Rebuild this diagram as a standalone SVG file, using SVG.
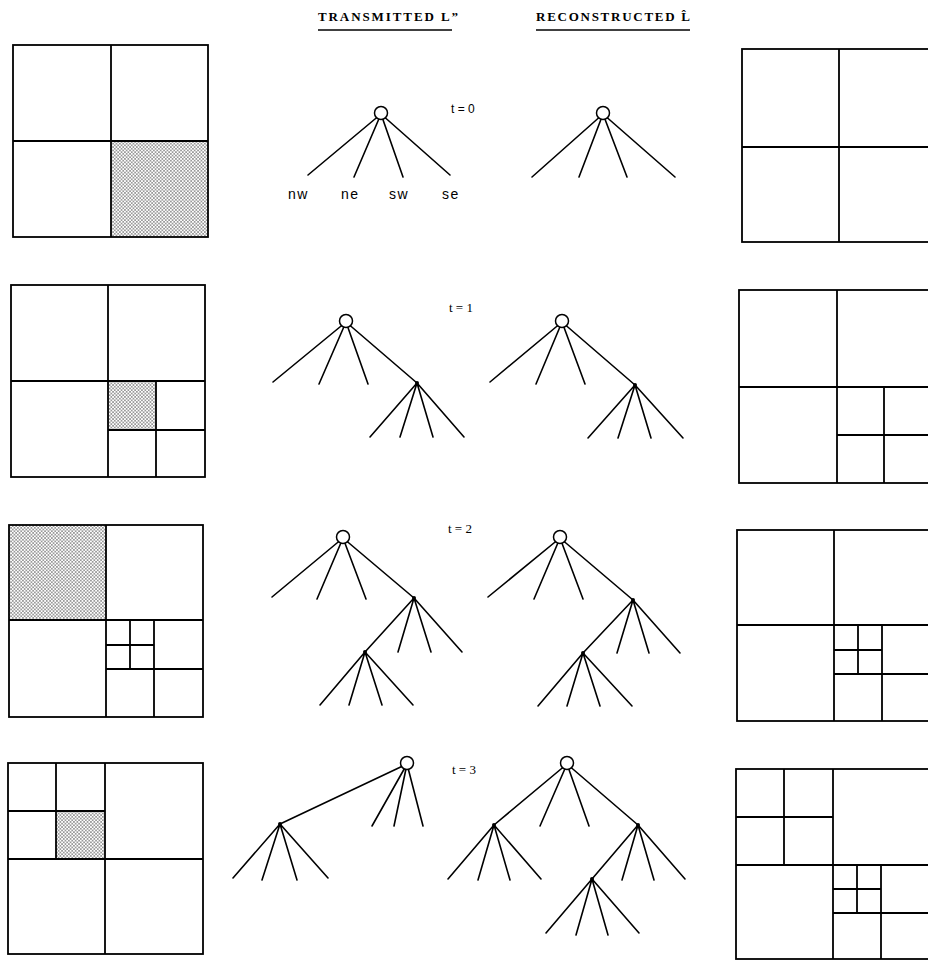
<svg xmlns="http://www.w3.org/2000/svg" width="928" height="960" viewBox="0 0 928 960">
<style>
.bx{fill:none;stroke:#000;stroke-width:1.8}
.dv{stroke:#000;stroke-width:1.8;fill:none}
.e{stroke:#000;stroke-width:1.6;fill:none;stroke-linecap:round}
.rt{fill:#fff;stroke:#000;stroke-width:1.5}
.nd{fill:#000}
.hd{font-family:"Liberation Serif","Times New Roman",serif;font-size:13px;font-weight:bold;fill:#000}
.ts{font-family:"Liberation Serif","Times New Roman",serif;font-size:13px;fill:#000}
.tsans{font-family:"Liberation Sans",Arial,sans-serif;font-size:12px;fill:#000}
.lb{font-family:"Liberation Sans",Arial,sans-serif;font-size:14px;fill:#000;letter-spacing:1.5px}
.ul{stroke:#000;stroke-width:1.5}
.sh{fill:url(#stip)}
</style>
<defs>
<pattern id="stip" width="3.4" height="3.4" patternUnits="userSpaceOnUse">
<rect width="3.4" height="3.4" fill="#fff"/>
<circle cx="0.85" cy="0.85" r="0.65" fill="#000"/>
<circle cx="2.55" cy="2.55" r="0.65" fill="#000"/>
</pattern>
</defs>
<rect width="928" height="960" fill="#fff"/>

<g id="headers">
<text class="hd" x="318" y="21" textLength="140" lengthAdjust="spacing">TRANSMITTED  L”</text>
<line class="ul" x1="318" y1="30" x2="452" y2="30"/>
<text class="hd" x="536" y="21" textLength="154" lengthAdjust="spacing">RECONSTRUCTED L̂</text>
<line class="ul" x1="536" y1="30" x2="690" y2="30"/>
</g>

<!-- Row t=0 -->
<g id="qt-L-t0">
<rect class="sh" x="111" y="141" width="97" height="96"/>
<rect class="bx" x="13" y="45" width="195" height="192"/>
<path class="dv" d="M111 45V237M13 141H208"/>
</g>
<g id="qt-R-t0">
<rect class="bx" x="742" y="49" width="194" height="193"/>
<path class="dv" d="M839 49V242M742 147H936"/>
</g>
<text class="tsans" x="451" y="113">t = 0</text>
<g id="tree-T-t0">
<g class="connectors">
<path class="e" d="M381 114L308 175M381 114L354 177M381 114L403 177M381 114L450 175"/>
</g>
<g id="T0-root"><circle class="rt" cx="381" cy="113" r="6.5"/></g>
<g id="T0-labels">
<text class="lb" x="288" y="199">nw</text>
<text class="lb" x="341" y="199">ne</text>
<text class="lb" x="389" y="199">sw</text>
<text class="lb" x="442" y="199">se</text>
</g>
</g>
<g id="tree-R-t0">
<g class="connectors">
<path class="e" d="M603 114L532 177M603 114L579 177M603 114L627 177M603 114L675 177"/>
</g>
<g id="R0-root"><circle class="rt" cx="603" cy="113" r="6.5"/></g>
</g>

<!-- Row t=1 -->
<g id="qt-L-t1">
<rect class="sh" x="108" y="381" width="48" height="49"/>
<rect class="bx" x="11" y="285" width="194" height="192"/>
<path class="dv" d="M108 285V477M11 381H205M156 381V477M108 430H205"/>
</g>
<g id="qt-R-t1">
<rect class="bx" x="739" y="290" width="196" height="193"/>
<path class="dv" d="M837 290V483M739 387H935M884 387V483M837 435H935"/>
</g>
<text class="ts" x="449" y="312">t = 1</text>
<g id="tree-T-t1">
<g class="connectors">
<path class="e" d="M346 322L273 382M346 322L319 384M346 322L368 384M346 322L417 383"/>
<path class="e" d="M417 383L370 437M417 383L400 437M417 383L433 437M417 383L464 437"/>
</g>
<g id="T1-root"><circle class="rt" cx="346" cy="321" r="6.5"/></g>
<g id="T1-se"><circle class="nd" cx="417" cy="383" r="2"/></g>
</g>
<g id="tree-R-t1">
<g class="connectors">
<path class="e" d="M562 322L490 382M562 322L536 384M562 322L585 384M562 322L635 385"/>
<path class="e" d="M635 385L588 438M635 385L618 438M635 385L651 438M635 385L683 438"/>
</g>
<g id="R1-root"><circle class="rt" cx="562" cy="321" r="6.5"/></g>
<g id="R1-se"><circle class="nd" cx="635" cy="385" r="2"/></g>
</g>

<!-- Row t=2 -->
<g id="qt-L-t2">
<rect class="sh" x="9" y="525" width="97" height="95"/>
<rect class="bx" x="9" y="525" width="194" height="192"/>
<path class="dv" d="M106 525V717M9 620H203M154 620V717M106 669H203M130 620V669M106 645H154"/>
</g>
<g id="qt-R-t2">
<rect class="bx" x="737" y="530" width="194" height="191"/>
<path class="dv" d="M834 530V721M737 625H931M882 625V721M834 674H931M858 625V674M834 650H882"/>
</g>
<text class="ts" x="448" y="533">t = 2</text>
<g id="tree-T-t2">
<g class="connectors">
<path class="e" d="M343 538L272 597M343 538L317 599M343 538L366 599M343 538L414 598"/>
<path class="e" d="M414 598L365 652M414 598L398 652M414 598L431 652M414 598L462 652"/>
<path class="e" d="M365 652L320 705M365 652L349 705M365 652L382 705M365 652L413 705"/>
</g>
<g id="T2-root"><circle class="rt" cx="343" cy="537" r="6.5"/></g>
<g id="T2-se"><circle class="nd" cx="414" cy="598" r="2"/></g>
<g id="T2-se-nw"><circle class="nd" cx="365" cy="652" r="2"/></g>
</g>
<g id="tree-R-t2">
<g class="connectors">
<path class="e" d="M560 538L488 597M560 538L534 599M560 538L583 599M560 538L633 600"/>
<path class="e" d="M633 600L583 653M633 600L617 653M633 600L649 653M633 600L680 653"/>
<path class="e" d="M583 653L538 706M583 653L567 706M583 653L600 706M583 653L632 706"/>
</g>
<g id="R2-root"><circle class="rt" cx="560" cy="537" r="6.5"/></g>
<g id="R2-se"><circle class="nd" cx="633" cy="600" r="2"/></g>
<g id="R2-se-nw"><circle class="nd" cx="583" cy="653" r="2"/></g>
</g>

<!-- Row t=3 -->
<g id="qt-L-t3">
<rect class="sh" x="56" y="811" width="49" height="48"/>
<rect class="bx" x="8" y="763" width="195" height="191"/>
<path class="dv" d="M105 763V954M8 859H203M56 763V859M8 811H105"/>
</g>
<g id="qt-R-t3">
<rect class="bx" x="736" y="769" width="194" height="190"/>
<path class="dv" d="M833 769V959M736 865H930M784 769V865M736 817H833M881 865V959M833 913H930M857 865V913M833 889H881"/>
</g>
<text class="ts" x="452" y="774">t = 3</text>
<g id="tree-T-t3">
<g class="connectors">
<path class="e" d="M407 764L280 824M407 764L372 826M407 764L394 826M407 764L423 826"/>
<path class="e" d="M280 824L233 878M280 824L262 880M280 824L297 880M280 824L328 878"/>
</g>
<g id="T3-root"><circle class="rt" cx="407" cy="763" r="6.5"/></g>
<g id="T3-nw"><circle class="nd" cx="280" cy="824" r="2"/></g>
</g>
<g id="tree-R-t3">
<g class="connectors">
<path class="e" d="M567 764L494 825M567 764L540 826M567 764L589 826M567 764L638 825"/>
<path class="e" d="M494 825L448 879M494 825L478 880M494 825L510 880M494 825L541 879"/>
<path class="e" d="M638 825L592 879M638 825L622 880M638 825L654 880M638 825L685 879"/>
<path class="e" d="M592 879L546 933M592 879L576 935M592 879L608 935M592 879L639 933"/>
</g>
<g id="R3-root"><circle class="rt" cx="567" cy="763" r="6.5"/></g>
<g id="R3-nw"><circle class="nd" cx="494" cy="825" r="2"/></g>
<g id="R3-se"><circle class="nd" cx="638" cy="825" r="2"/></g>
<g id="R3-se-nw"><circle class="nd" cx="592" cy="879" r="2"/></g>
</g>
</svg>
